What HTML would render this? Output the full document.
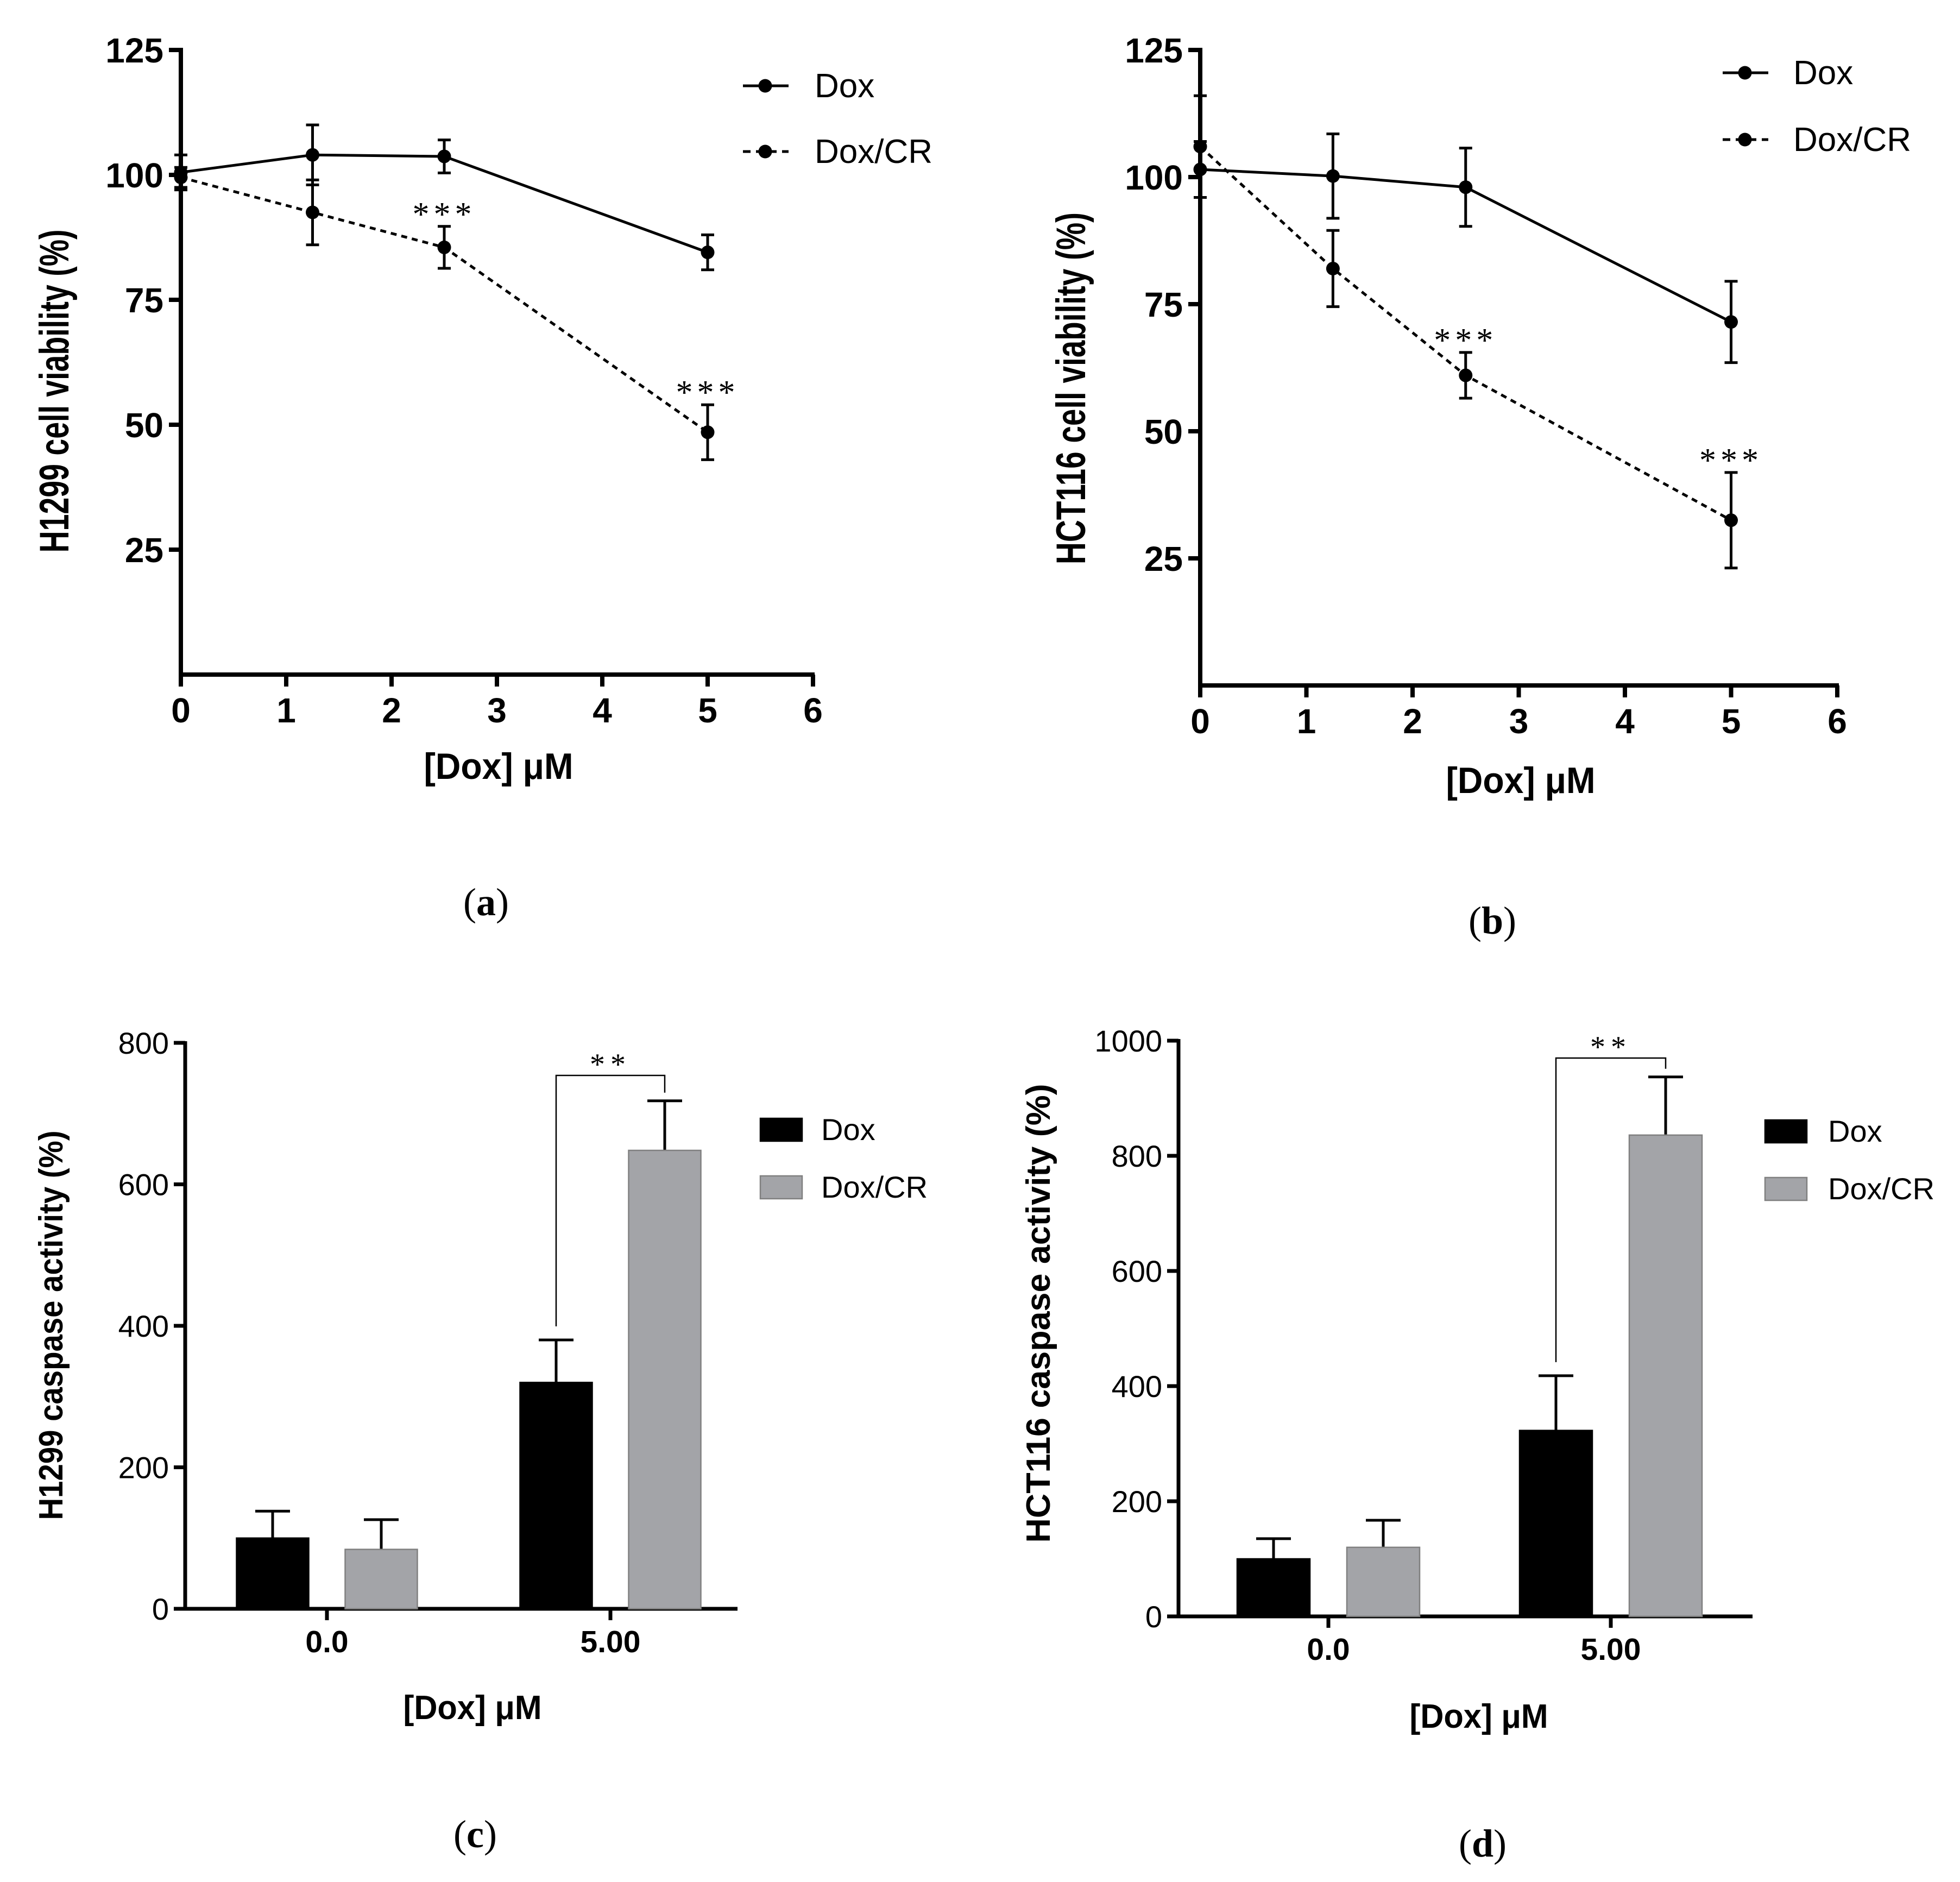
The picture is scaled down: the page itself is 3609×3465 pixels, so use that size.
<!DOCTYPE html>
<html><head><meta charset="utf-8">
<style>
html,body{margin:0;padding:0;background:#fff;}
svg{display:block;}
text{font-family:"Liberation Sans",Arial,sans-serif;fill:#000;}
.serif{font-family:"Liberation Serif","Times New Roman",serif;}
</style></head>
<body>
<svg id="fig" width="3609" height="3465" viewBox="0 0 3609 3465" xmlns="http://www.w3.org/2000/svg">
<rect width="3609" height="3465" fill="#fff"/>
</svg>
<script>
// ---- Panel (a) data ----
const aDoses = [0, 1.25, 2.5, 5];
const aDox = [100.5, 104, 103.7, 84.5];
const aDoxErr = [3.5, 6, 3.3, 3.5];
const aDoxCR = [99.5, 92.5, 85.5, 48.5];
const aDoxCRErr = [2, 6.5, 4.2, 5.5];
const aStarIdx = [2, 3];
// ---- Panel (b) data ----
const bDoses = [0, 1.25, 2.5, 5];
const bDox = [101.5, 100.2, 98, 71.5];
const bDoxErr = [5.5, 8.3, 7.7, 8];
const bDoxCR = [106, 82, 61, 32.5];
const bDoxCRErr = [10, 7.5, 4.5, 9.4];
const bStarIdx = [2, 3];
const lineYTicks = [25, 50, 75, 100, 125];
const lineXTicks = [0, 1, 2, 3, 4, 5, 6];
// ---- Panel (c) data ----
const barCats = ["0.0", "5.00"];
const cDox = [100, 320];
const cDoxErr = [38, 60];
const cDoxCR = [84, 648];
const cDoxCRErr = [42, 70];
const cYTicks = [0, 200, 400, 600, 800];
// ---- Panel (d) data ----
const dDox = [100, 323];
const dDoxErr = [35, 95];
const dDoxCR = [120, 836];
const dDoxCRErr = [47, 101];
const dYTicks = [0, 200, 400, 600, 800, 1000];

const NS = "http://www.w3.org/2000/svg";
const svg = document.getElementById('fig');
function mk(tag, attrs, parent, txt) {
  const e = document.createElementNS(NS, tag);
  for (const k in attrs) e.setAttribute(k, attrs[k]);
  if (txt !== undefined) e.textContent = txt;
  (parent || svg).appendChild(e);
  return e;
}
function grp(name) {
  const g = document.createElementNS(NS, 'g');
  
  
  svg.appendChild(g);
  return g;
}

function lineChart(P) {
  const g = grp(P.name);
  const sx = v => P.x0 + v * P.xu;
  const sy = v => P.y0 - v * P.yu;
  const ax = mk('line', {x1: P.x0, y1: sy(125) - 4, x2: P.x0, y2: P.y0 + 4, stroke: '#000', 'stroke-width': 8}, g);
  
  
  const xa = mk('line', {x1: P.x0 - 4, y1: P.y0, x2: sx(6) + 3, y2: P.y0, stroke: '#000', 'stroke-width': 8}, g);
  
  
  lineYTicks.forEach(t => {
    const y = sy(t);
    const tk = mk('line', {x1: P.x0 - 22, y1: y, x2: P.x0, y2: y, stroke: '#000', 'stroke-width': 8}, g);
    
    
    const tl = mk('text', {x: P.x0 - 32, y: y + 23, 'text-anchor': 'end', 'font-size': 64, 'font-weight': 'bold'}, g, String(t));
    
    
  });
  lineXTicks.forEach(t => {
    const x = sx(t);
    const tk = mk('line', {x1: x, y1: P.y0, x2: x, y2: P.y0 + 22, stroke: '#000', 'stroke-width': 8}, g);
    
    
    const tl = mk('text', {x: x, y: P.y0 + 88, 'text-anchor': 'middle', 'font-size': 64, 'font-weight': 'bold'}, g, String(t));
    
    
  });
  const series = [
    {name: 'dox', v: P.dox, e: P.doxErr, dash: null},
    {name: 'dox-cr', v: P.cr, e: P.crErr, dash: '11,9'}
  ];
  series.forEach(s => {
    let d = '';
    P.doses.forEach((x, i) => { d += (i ? 'L' : 'M') + sx(x) + ',' + sy(s.v[i]); });
    const attrs = {d: d, fill: 'none', stroke: '#000', 'stroke-width': 5};
    if (s.dash) attrs['stroke-dasharray'] = s.dash;
    const pth = mk('path', attrs, g);
    
    
    P.doses.forEach((x, i) => {
      const cx = sx(x), yt = sy(s.v[i] + s.e[i]), yb = sy(s.v[i] - s.e[i]);
      const eb = mk('path', {d: `M${cx},${yt}L${cx},${yb}M${cx-12},${yt}L${cx+12},${yt}M${cx-12},${yb}L${cx+12},${yb}`, stroke: '#000', 'stroke-width': 5, fill: 'none'}, g);
      
      
      const pt = mk('circle', {cx: cx, cy: sy(s.v[i]), r: 12.5, fill: '#000'}, g);
      
      
    });
  });
  P.stars.forEach(i => {
    const x = sx(P.doses[i]);
    const y = sy(P.cr[i] + P.crErr[i]) - 28;
    const st = mk('text', {x: x, y: y + 26, 'text-anchor': 'middle', 'font-size': 62, 'letter-spacing': 8, class: 'serif'}, g, '***');
    
    
  });
  const yt = mk('text', {x: 0, y: 0, transform: `translate(${P.ytx},${P.yty}) rotate(-90)`, 'text-anchor': 'middle', 'font-size': 76, 'font-weight': 'bold', textLength: P.ytLen, lengthAdjust: 'spacingAndGlyphs'}, g, P.ytitle);
  
  
  const xt = mk('text', {x: P.xtx, y: P.xty, 'text-anchor': 'middle', 'font-size': 68, 'font-weight': 'bold', textLength: P.xtLen, lengthAdjust: 'spacingAndGlyphs'}, g, '[Dox] μM');
  
  
  [['Dox', P.ly1, null, 'legend-entry-dox'], ['Dox/CR', P.ly2, '14,10', 'legend-entry-dox-cr']].forEach(L => {
    const lg = mk('g', {}, g);
    
    
    const la = {x1: P.lx, y1: L[1], x2: P.lx + 84, y2: L[1], stroke: '#000', 'stroke-width': 5};
    if (L[2]) la['stroke-dasharray'] = L[2];
    mk('line', la, lg);
    mk('circle', {cx: P.lx + 41, cy: L[1], r: 12.5, fill: '#000'}, lg);
    mk('text', {x: P.ltx, y: L[1] + 21, 'font-size': 62}, lg, L[0]);
  });
  const pl = mk('text', {x: P.plx, y: P.ply, 'text-anchor': 'middle', 'font-size': 72, class: 'serif'}, g);
  
  
  mk('tspan', {}, pl, '(');
  mk('tspan', {'font-weight': 'bold'}, pl, P.plabel);
  mk('tspan', {}, pl, ')');
}

function barChart(P) {
  const g = grp(P.name);
  const sy = v => P.y0 - v * P.yu;
  const ymax = P.ticks[P.ticks.length - 1];
  const ax = mk('line', {x1: P.x0, y1: sy(ymax) - 3, x2: P.x0, y2: P.y0 + 3, stroke: '#000', 'stroke-width': 7}, g);
  
  
  const xa = mk('line', {x1: P.xL, y1: P.y0, x2: P.xR, y2: P.y0, stroke: '#000', 'stroke-width': 7}, g);
  
  
  P.ticks.forEach(t => {
    const y = sy(t);
    const tk = mk('line', {x1: P.x0 - 21, y1: y, x2: P.x0, y2: y, stroke: '#000', 'stroke-width': 7}, g);
    
    
    const tl = mk('text', {x: P.x0 - 30, y: y + 20, 'text-anchor': 'end', 'font-size': 56}, g, String(t));
    
    
  });
  barCats.forEach((c, i) => {
    const cx = P.cats[i];
    const tk = mk('line', {x1: cx, y1: P.y0, x2: cx, y2: P.y0 + 21, stroke: '#000', 'stroke-width': 7}, g);
    
    
    const tl = mk('text', {x: cx, y: P.y0 + 80, 'text-anchor': 'middle', 'font-size': 57, 'font-weight': 'bold'}, g, c);
    
    
    [[P.dox, P.doxErr, -1, '#000', '#000', 'bar-dox'], [P.cr, P.crErr, 1, '#a3a4a8', '#808080', 'bar-dox-cr']].forEach(S => {
      const bx = cx + S[2] * P.off - P.bw / 2;
      const v = S[0][i], e = S[1][i];
      const eb = mk('path', {d: `M${bx + P.bw/2},${sy(v)}L${bx + P.bw/2},${sy(v+e)}M${bx + P.bw/2 - 32},${sy(v+e)}L${bx + P.bw/2 + 32},${sy(v+e)}`, stroke: '#000', 'stroke-width': 5, fill: 'none'}, g);
      
      
      const r = mk('rect', {x: bx, y: sy(v), width: P.bw, height: v * P.yu, fill: S[3], stroke: S[4], 'stroke-width': 2.5}, g);
      
      
    });
  });
  const bxl = P.cats[1] - P.off, bxr = P.cats[1] + P.off;
  const br = mk('path', {d: `M${bxl},${sy(P.dox[1] + P.doxErr[1]) - 25}L${bxl},${P.brTop}L${bxr},${P.brTop}L${bxr},${sy(P.cr[1] + P.crErr[1]) - 15}`, fill: 'none', stroke: '#000', 'stroke-width': 2.5}, g);
  
  
  const st = mk('text', {x: (bxl + bxr) / 2, y: P.brTop - 2, 'text-anchor': 'middle', 'font-size': 56, 'letter-spacing': 10, class: 'serif'}, g, '**');
  
  
  const yt = mk('text', {x: 0, y: 0, transform: `translate(${P.ytx},${P.yty}) rotate(-90)`, 'text-anchor': 'middle', 'font-size': 62, 'font-weight': 'bold', textLength: P.ytLen, lengthAdjust: 'spacingAndGlyphs'}, g, P.ytitle);
  
  
  const xt = mk('text', {x: P.xtx, y: P.xty, 'text-anchor': 'middle', 'font-size': 62, 'font-weight': 'bold', textLength: 255, lengthAdjust: 'spacingAndGlyphs'}, g, '[Dox] μM');
  
  
  [['Dox', P.ly1, '#000', '#000', 'legend-entry-dox'], ['Dox/CR', P.ly2, '#a3a4a8', '#808080', 'legend-entry-dox-cr']].forEach(L => {
    const lg = mk('g', {}, g);
    
    
    mk('rect', {x: P.lx, y: L[1], width: 77, height: 42, fill: L[2], stroke: L[3], 'stroke-width': 2.5}, lg);
    mk('text', {x: P.ltx, y: L[1] + 40, 'font-size': 56}, lg, L[0]);
  });
  const pl = mk('text', {x: P.plx, y: P.ply, 'text-anchor': 'middle', 'font-size': 72, class: 'serif'}, g);
  
  
  mk('tspan', {}, pl, '(');
  mk('tspan', {'font-weight': 'bold'}, pl, P.plabel);
  mk('tspan', {}, pl, ')');
}

lineChart({name: 'panel-a-h1299-viability', x0: 333, xu: 194, y0: 1242, yu: 9.2,
  doses: aDoses, dox: aDox, doxErr: aDoxErr, cr: aDoxCR, crErr: aDoxCRErr, stars: aStarIdx,
  ytitle: 'H1299 cell viability (%)', ytx: 126, yty: 720, ytLen: 595,
  xtx: 918, xty: 1434, xtLen: 275,
  lx: 1368, ltx: 1500, ly1: 158, ly2: 279, plx: 895, ply: 1685, plabel: 'a'});
lineChart({name: 'panel-b-hct116-viability', x0: 2210, xu: 195.5, y0: 1262, yu: 9.36,
  doses: bDoses, dox: bDox, doxErr: bDoxErr, cr: bDoxCR, crErr: bDoxCRErr, stars: bStarIdx,
  ytitle: 'HCT116 cell viability (%)', ytx: 1998, yty: 715, ytLen: 648,
  xtx: 2800, xty: 1460, xtLen: 275,
  lx: 3172, ltx: 3302, ly1: 134, ly2: 257, plx: 2748, ply: 1719, plabel: 'b'});
barChart({name: 'panel-c-h1299-caspase', x0: 341, y0: 2962, yu: 1.3025, xL: 322, xR: 1358,
  cats: [602, 1124], off: 100, bw: 133, ticks: cYTicks,
  dox: cDox, doxErr: cDoxErr, cr: cDoxCR, crErr: cDoxCRErr, brTop: 1980,
  ytitle: 'H1299 caspase activity (%)', ytx: 115, yty: 2440, ytLen: 717,
  xtx: 870, xty: 3165, lx: 1400, ltx: 1512, ly1: 2059, ly2: 2165, plx: 875, ply: 3401, plabel: 'c'});
barChart({name: 'panel-d-hct116-caspase', x0: 2170, y0: 2976, yu: 1.06, xL: 2152, xR: 3227,
  cats: [2446, 2966], off: 101, bw: 134, ticks: dYTicks,
  dox: dDox, doxErr: dDoxErr, cr: dDoxCR, crErr: dDoxCRErr, brTop: 1948,
  ytitle: 'HCT116 caspase activity (%)', ytx: 1933, yty: 2418, ytLen: 845,
  xtx: 2723, xty: 3181, lx: 3250, ltx: 3366, ly1: 2062, ly2: 2168, plx: 2730, ply: 3418, plabel: 'd'});
</script>
</body></html>
